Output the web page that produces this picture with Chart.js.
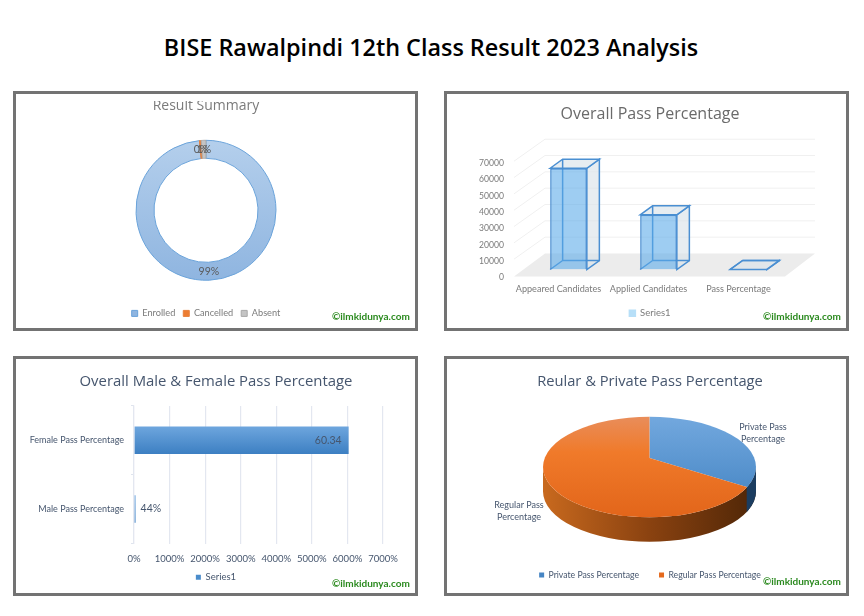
<!DOCTYPE html>
<html>
<head>
<meta charset="utf-8">
<title>BISE Rawalpindi 12th Class Result 2023 Analysis</title>
<script src="https://cdn.jsdelivr.net/npm/chart.js@4/dist/chart.umd.min.js"></script>
<style>
html,body{margin:0;padding:0;background:#fff;width:864px;height:616px;overflow:hidden;font-family:"Open Sans",sans-serif}
#page{position:relative;width:864px;height:616px}
h1{position:absolute;left:0;top:31px;width:862px;margin:0;text-align:center;font:600 23.4px/32px "Open Sans",sans-serif;color:#000}
.panel{position:absolute;box-sizing:border-box;border:3px solid #737373;background:#fff}
canvas{position:absolute;filter:blur(0.3px)}
.wm{position:absolute;color:#2b8a1f;font:700 10px/14px Lato,sans-serif;white-space:nowrap;z-index:3}
#mask{position:absolute;left:16px;top:94px;width:398px;height:6.5px;background:#fff;z-index:2}
</style>
</head>
<body>
<div id="page">
<h1>BISE Rawalpindi 12th Class Result 2023 Analysis</h1>
<div class="panel" style="left:13px;top:91px;width:405px;height:240px"></div>
<div class="panel" style="left:444px;top:91px;width:405px;height:240px"></div>
<div class="panel" style="left:13px;top:356px;width:405px;height:240px"></div>
<div class="panel" style="left:444px;top:356px;width:405px;height:240px"></div>
<canvas id="c1" width="380" height="234" style="left:16px;top:94px"></canvas>
<canvas id="c2" width="406" height="234" style="left:447px;top:94px"></canvas>
<canvas id="c3" width="400" height="234" style="left:16px;top:358px"></canvas>
<canvas id="c4" width="404" height="234" style="left:447px;top:358px"></canvas>
<div id="mask"></div>
<div class="wm" style="left:332px;top:309px">©ilmkidunya.com</div>
<div class="wm" style="left:763px;top:309px">©ilmkidunya.com</div>
<div class="wm" style="left:332px;top:576px">©ilmkidunya.com</div>
<div class="wm" style="left:763px;top:574px">©ilmkidunya.com</div>
</div>
<script>
const summaryLabels = ["Enrolled", "Cancelled", "Absent"];
const summaryValues = [98.5, 0.4, 1.1];
const summaryText = ["99%", "0%", "1%"];

const overallLabels = ["Appeared Candidates", "Applied Candidates", "Pass Percentage"];
const overallValues = [62000, 33500, 57];

const genderLabels = ["Female Pass Percentage", "Male Pass Percentage"];
const genderValues = [60.34, 0.44];
const genderText = ["60.34", "44%"];

const typeLabels = ["Private Pass Percentage", "Regular Pass Percentage"];
const typeValues = [34, 66];

const FONT = 'Lato, "Open Sans", sans-serif';
const GREY = "#7b7b7b";
const SLATE = "#46566e";
Chart.defaults.font.family = FONT;
Chart.defaults.animation = false;
Chart.defaults.responsive = false;
Chart.defaults.devicePixelRatio = 1;
Chart.defaults.plugins.tooltip.enabled = false;

function titleOpts(text, size, color, top, bottom) {
  return {display: true, text, color, font: {size, weight: "normal", family: '"Open Sans", sans-serif', lineHeight: 1.2}, padding: {top, bottom}};
}
function legendOpts(color, box, padding, fill, size) {
  const labels = {color, boxWidth: box, boxHeight: box, padding, font: {size: size || 9.5, family: FONT}};
  if (fill) {
    labels.generateLabels = chart => Chart.defaults.plugins.legend.labels.generateLabels(chart)
      .map(item => Object.assign(item, {fillStyle: fill, strokeStyle: fill}));
  }
  return {display: true, position: "bottom", labels};
}
/* An empty axis on the right: keeps the plot narrower while title and legend stay centred on the canvas. */
function spacerAxis(width) {
  return {
    axis: "y", position: "right", display: true,
    grid: {display: false}, border: {display: false},
    ticks: {display: false},
    afterFit: s => { s.width = width; }
  };
}

/* ---------- Result Summary ---------- */
new Chart(document.getElementById("c1"), {
  type: "doughnut",
  data: {
    labels: summaryLabels,
    datasets: [{
      data: summaryValues,
      radius: 70,
      cutout: "74.3%",
      borderWidth: 1,
      borderColor: ["#6aa3da", "#e8813c", "#a9a9a9"],
      backgroundColor: c => {
        if (c.dataIndex === 1) return "#ed7d31";
        if (c.dataIndex === 2) return "#c4c4c4";
        const a = c.chart.chartArea;
        if (!a) return "#a4c2e6";
        const cy = (a.top + a.bottom) / 2;
        const g = c.chart.ctx.createLinearGradient(0, cy - 70, 0, cy + 70);
        g.addColorStop(0, "#b4cfec");
        g.addColorStop(1, "#8fb5e0");
        return g;
      }
    }]
  },
  options: {
    layout: {autoPadding: false},
    plugins: {title: titleOpts("Result Summary", 14, GREY, 4, 5), legend: legendOpts(GREY, 6, 8, null, 9.2)}
  },
  plugins: [{
    id: "summaryLabels",
    afterDatasetsDraw(chart) {
      const ctx = chart.ctx;
      ctx.save();
      ctx.font = "10.5px " + FONT;
      ctx.fillStyle = "#5a5a5a";
      ctx.textAlign = "center";
      ctx.textBaseline = "middle";
      chart.getDatasetMeta(0).data.forEach((arc, i) => {
        const p = arc.tooltipPosition();
        ctx.fillText(summaryText[i], p.x, p.y);
      });
      ctx.restore();
    }
  }]
});

/* ---------- Overall Pass Percentage ---------- */
const FLOOR_BACK = -16, DEPTH_X = 12.5, DEPTH_Y = -9;
new Chart(document.getElementById("c2"), {
  type: "bar",
  data: {
    labels: overallLabels,
    datasets: [{
      label: "Series1",
      data: overallValues,
      categoryPercentage: 1,
      barPercentage: 0.408,
      backgroundColor: "rgba(88,168,232,0.58)",
      borderColor: "#4a8fd2",
      borderWidth: 1.5
    }]
  },
  options: {
    layout: {autoPadding: false},
    plugins: {title: titleOpts("Overall Pass Percentage", 16, "#6a6a6a", 11, 31), legend: legendOpts(GREY, 6, 6, "#b7dff8")},
    scales: {
      x: {
        grid: {display: false, drawTicks: false}, border: {display: false},
        afterFit: s => { s.height = 33; },
        ticks: {padding: 14, labelOffset: -10, color: GREY, font: {size: 9.1}, maxRotation: 0, autoSkip: false}
      },
      y: {
        min: 0, max: 70000,
        grid: {display: false, drawTicks: false}, border: {display: false},
        afterFit: s => { s.width = 76.5; },
        ticks: {stepSize: 10000, padding: 19.5, labelOffset: 8, color: GREY, font: {size: 8.6}, callback: v => String(v)}
      },
      spacer: spacerAxis(59.5)
    }
  },
  plugins: [{
    id: "depth",
    beforeDatasetsDraw(chart) {
      const ctx = chart.ctx, y = chart.scales.y, a = chart.chartArea;
      const fl = a.left - 9.5, fr = a.right - 8.5, bl = a.left + 21.5, br = a.right + 21.5;
      ctx.save();
      const y0 = y.getPixelForValue(0);
      ctx.fillStyle = "#ececec";
      ctx.beginPath();
      ctx.moveTo(bl, y0 + FLOOR_BACK);
      ctx.lineTo(br, y0 + FLOOR_BACK);
      ctx.lineTo(fr, y0 + 7);
      ctx.lineTo(fl, y0 + 7);
      ctx.closePath();
      ctx.fill();
      ctx.strokeStyle = "#f0f0f0";
      ctx.lineWidth = 1;
      y.ticks.forEach(t => {
        if (t.value === 0) return;
        const py = y.getPixelForValue(t.value);
        ctx.beginPath();
        ctx.moveTo(fl, py + 6);
        ctx.lineTo(bl, py + FLOOR_BACK);
        ctx.lineTo(br, py + FLOOR_BACK);
        ctx.stroke();
      });
      chart.getDatasetMeta(0).data.forEach(bar => {
        const l = bar.x - bar.width / 2, r = bar.x + bar.width / 2, t = bar.y, b = bar.base;
        ctx.fillStyle = "rgba(218,228,234,0.65)";
        ctx.strokeStyle = "#4a8fd2";
        ctx.lineWidth = 1.5;
        ctx.beginPath();
        ctx.moveTo(r, t);
        ctx.lineTo(r + DEPTH_X, t + DEPTH_Y);
        ctx.lineTo(r + DEPTH_X, b + DEPTH_Y);
        ctx.lineTo(r, b);
        ctx.closePath();
        ctx.fill();
        ctx.stroke();
        ctx.beginPath();
        ctx.moveTo(l, t);
        ctx.lineTo(l + DEPTH_X, t + DEPTH_Y);
        ctx.lineTo(r + DEPTH_X, t + DEPTH_Y);
        ctx.lineTo(r, t);
        ctx.closePath();
        ctx.fill();
        ctx.stroke();
        ctx.beginPath();
        ctx.moveTo(l + DEPTH_X, t + DEPTH_Y);
        ctx.lineTo(l + DEPTH_X, b + DEPTH_Y);
        ctx.lineTo(r + DEPTH_X, b + DEPTH_Y);
        ctx.moveTo(l, b);
        ctx.lineTo(l + DEPTH_X, b + DEPTH_Y);
        ctx.stroke();
      });
      ctx.restore();
    }
  }]
});

/* ---------- Male & Female ---------- */
new Chart(document.getElementById("c3"), {
  type: "bar",
  data: {
    labels: genderLabels,
    datasets: [{
      label: "Series1",
      data: genderValues,
      categoryPercentage: 1,
      barPercentage: 0.4,
      borderWidth: 0,
      backgroundColor: c => {
        const s = c.chart.scales && c.chart.scales.y;
        if (!s) return "#5b9bd5";
        const m = s.getPixelForTick(c.dataIndex);
        const g = c.chart.ctx.createLinearGradient(0, m - 14, 0, m + 14);
        g.addColorStop(0, "#6ea6de");
        g.addColorStop(1, "#3c7fc2");
        return g;
      }
    }]
  },
  options: {
    indexAxis: "y",
    layout: {autoPadding: false},
    plugins: {title: titleOpts("Overall Male & Female Pass Percentage", 14.9, SLATE, 15, 15), legend: legendOpts(SLATE, 5, 6, "#4a8ccb")},
    scales: {
      x: {
        min: 0, max: 70,
        grid: {color: "#e3e7f0", lineWidth: 1.2, drawTicks: false},
        border: {display: false},
        afterFit: s => { s.height = 23; },
        ticks: {stepSize: 10, padding: 10, color: SLATE, font: {size: 9.5}, callback: v => (v * 100) + "%", maxRotation: 0}
      },
      y: {
        grid: {drawOnChartArea: false, color: "#dfe4ee", tickLength: 3},
        border: {color: "#e3e7f0", width: 1.2},
        afterFit: s => { s.width = 118; },
        ticks: {padding: 7, color: SLATE, font: {size: 9}}
      },
      spacer: spacerAxis(33)
    }
  },
  plugins: [{
    id: "genderLabels",
    afterDatasetsDraw(chart) {
      const ctx = chart.ctx;
      ctx.save();
      ctx.font = "10.5px " + FONT;
      ctx.fillStyle = SLATE;
      ctx.textBaseline = "middle";
      chart.getDatasetMeta(0).data.forEach((bar, i) => {
        const inside = bar.x - bar.base > 30;
        ctx.textAlign = inside ? "right" : "left";
        ctx.fillText(genderText[i], inside ? bar.x - 7 : bar.x + 5, bar.y);
      });
      ctx.restore();
    }
  }]
});

/* ---------- Regular & Private (tilted pie) ---------- */
const TILT = 0.47, VERTEX_X = 202.5, VERTEX_Y = 100;
const RIM_CY = 109, RIM_RX = 106.5, RIM_RY = 50.3, RIM_DEPTH = 24.5, BLUE_RIM_FROM = 299.7;
function rimPath(ctx) {
  ctx.beginPath();
  ctx.moveTo(VERTEX_X - RIM_RX, RIM_CY);
  ctx.lineTo(VERTEX_X - RIM_RX, RIM_CY + RIM_DEPTH);
  ctx.ellipse(VERTEX_X, RIM_CY + RIM_DEPTH, RIM_RX, RIM_RY, 0, Math.PI, 0, true);
  ctx.lineTo(VERTEX_X + RIM_RX, RIM_CY);
  ctx.ellipse(VERTEX_X, RIM_CY, RIM_RX, RIM_RY, 0, 0, Math.PI);
  ctx.closePath();
}
new Chart(document.getElementById("c4"), {
  type: "pie",
  data: {
    labels: typeLabels,
    datasets: [{
      data: typeValues,
      radius: 135,
      clip: false,
      borderWidth: 0,
      backgroundColor: c => {
        const a = c.chart.chartArea;
        if (!a) return "#5b9bd5";
        const cy = (a.top + a.bottom) / 2;
        const g = c.chart.ctx.createLinearGradient(0, cy - 41 / TILT, 0, cy + 60 / TILT);
        if (c.dataIndex === 0) {
          g.addColorStop(0, "#72a8de");
          g.addColorStop(1, "#3f80c0");
        } else {
          g.addColorStop(0, "#e98d5a");
          g.addColorStop(0.35, "#f07a2a");
          g.addColorStop(1, "#e2651a");
        }
        return g;
      }
    }]
  },
  options: {
    layout: {autoPadding: false, padding: {left: 2, bottom: 2.6}},
    plugins: {title: titleOpts("Reular & Private Pass Percentage", 14.7, SLATE, 15, 12), legend: legendOpts(SLATE, 5, 20, null, 8.7)}
  },
  plugins: [{
    id: "tilt",
    beforeDatasetsDraw(chart) {
      const ctx = chart.ctx;
      ctx.save();
      const g = ctx.createLinearGradient(VERTEX_X - RIM_RX, 0, VERTEX_X + RIM_RX, 0);
      g.addColorStop(0, "#c8691e");
      g.addColorStop(0.5, "#8a4210");
      g.addColorStop(1, "#4f2607");
      ctx.fillStyle = g;
      rimPath(ctx);
      ctx.fill();
      ctx.save();
      ctx.beginPath();
      ctx.rect(BLUE_RIM_FROM, 0, 200, 234);
      ctx.clip();
      ctx.fillStyle = "#1b3d60";
      rimPath(ctx);
      ctx.fill();
      ctx.restore();
      ctx.restore();

      const a = chart.chartArea;
      ctx.save();
      ctx.beginPath();
      ctx.ellipse(VERTEX_X, RIM_CY, RIM_RX, RIM_RY, 0, 0, Math.PI * 2);
      ctx.clip();
      ctx.translate(VERTEX_X, VERTEX_Y);
      ctx.scale(1, TILT);
      ctx.translate(-(a.left + a.right) / 2, -(a.top + a.bottom) / 2);
    },
    afterDatasetsDraw(chart) {
      const ctx = chart.ctx;
      ctx.restore();
      ctx.save();
      ctx.font = "9px " + FONT;
      ctx.fillStyle = SLATE;
      ctx.textAlign = "center";
      ctx.textBaseline = "middle";
      ctx.fillText("Private Pass", 316, 69);
      ctx.fillText("Percentage", 316, 81);
      ctx.fillText("Regular Pass", 72, 147);
      ctx.fillText("Percentage", 72, 159);
      ctx.restore();
    }
  }]
});
</script>
</body>
</html>
